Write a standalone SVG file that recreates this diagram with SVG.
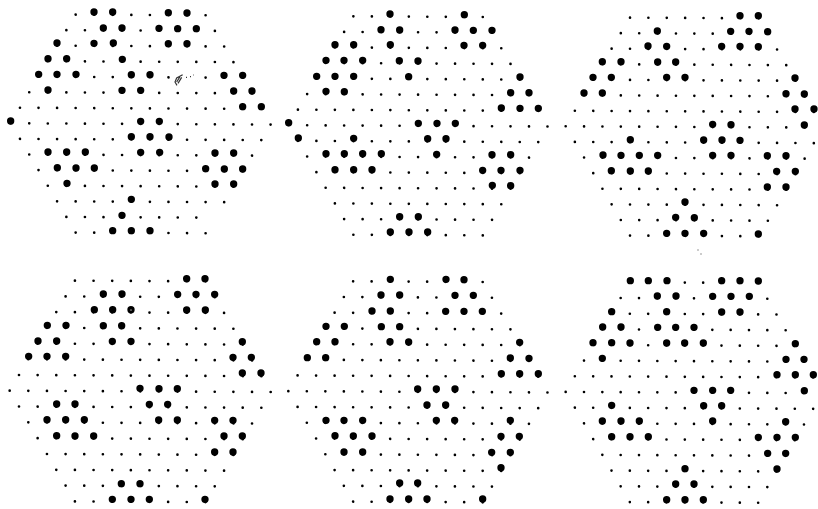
<svg xmlns="http://www.w3.org/2000/svg" width="818" height="509" viewBox="0 0 818 509">
<style>
.grid{fill:none;stroke:#000;stroke-width:8;stroke-linecap:round;stroke-dasharray:0 55.6}
.big{fill:none;stroke:#000;stroke-width:22;stroke-linecap:round}
.patch{fill:none;stroke:#fff;stroke-width:18;stroke-linecap:round}
</style>
<defs>
<path id="lattice" class="grid" d="M194.6 0h390.2M166.8 47h445.8M139 94h501.4M111.2 141h557M83.4 188h612.6M55.6 235h668.2M27.8 282h723.8M0 329h779.4M27.8 376h723.8M55.6 423h668.2M83.4 470h612.6M111.2 517h557M139 564h501.4M166.8 611h445.8M194.6 658h390.2"/>
</defs>
<rect width="818" height="509" fill="#fff"/>
<g id="panel-1">
<use href="#lattice" transform="matrix(.3339 .0017 0 .3312 10.67 14.3)"/>
<g transform="scale(.33333)">
<path class="patch" d="M644.7 653h0M561 231h0"/>
<path class="big" d="M282 36h0M338 36h0M505 38h0M561 39h0M310 84h0M366 84h0M477 85h0M533 86h0M589 86h0M171 129h0M282 130h0M340 129h0M505 131h0M561 131h0M144 176h0M200 176h0M367 178h0M116 223h0M171 223h0M228 223h0M394 224h0M450 224h0M672 226h0M728 226h0M144 270h0M366 271h0M422 271h0M701 273h0M756 273h0M728 320h0M784 320h0M32 363h0M422 364h0M478 364h0M394 410h0M450 410h0M507 411h0M144 456h0M200 456h0M256 456h0M422 457h0M479 457h0M645 459h0M701 459h0M172 503h0M228 504h0M283 504h0M617 506h0M673 507h0M728 507h0M201 550h0M645 552h0M701 552h0M394 598h0M366 646h0M338 692h0M394 692h0M450 692h0"/>
<path d="M548 224L530 234L525 246L531 256M540 230L530 246M545 232L534 250M558 232h3M570 230h3M580 225h2" fill="none" stroke="#333" stroke-width="3.5"/>
</g>
</g>
<g id="panel-2">
<use href="#lattice" transform="matrix(.3325 .0017 0 .3319 288.67 16)"/>
<g transform="translate(275 0) scale(.33333)">
<path class="big" d="M345 42h0M568 44h0M318 89h0M374 90h0M540 90h0M595 91h0M651 91h0M180 134h0M236 134h0M346 134h0M567 136h0M623 136h0M153 181h0M207 181h0M263 181h0M373 182h0M429 183h0M125 229h0M180 229h0M236 229h0M401 230h0M735 231h0M153 274h0M208 275h0M707 278h0M762 278h0M679 324h0M735 325h0M790 325h0M41 368h0M430 370h0M486 370h0M541 370h0M70 414h0M236 415h0M458 416h0M513 416h0M153 461h0M208 461h0M263 461h0M319 461h0M485 463h0M651 464h0M707 464h0M180 509h0M236 509h0M291 509h0M623 511h0M678 511h0M735 511h0M652 556h0M707 557h0M374 650h0M430 650h0M346 696h0M402 696h0M458 696h0"/>
</g>
</g>
<g id="panel-3">
<use href="#lattice" transform="matrix(.3306 .0017 0 .3312 565.67 17.33)"/>
<g transform="translate(550 0) scale(.33333)">
<path class="big" d="M570 47h0M625 47h0M322 93h0M542 94h0M597 94h0M653 95h0M294 138h0M350 139h0M515 139h0M570 139h0M625 140h0M157 185h0M213 185h0M323 186h0M377 186h0M129 232h0M184 232h0M350 232h0M405 232h0M735 234h0M102 279h0M157 279h0M708 281h0M763 282h0M735 327h0M792 327h0M488 373h0M543 374h0M763 375h0M241 419h0M461 420h0M516 420h0M570 421h0M159 465h0M213 466h0M268 466h0M323 466h0M488 466h0M543 466h0M652 467h0M708 467h0M184 512h0M241 513h0M295 513h0M680 514h0M736 514h0M652 561h0M708 561h0M405 606h0M377 652h0M433 653h0M350 700h0M405 700h0M461 700h0M625 702h0"/>
</g>
</g>
<g id="panel-4">
<use href="#lattice" transform="matrix(.3353 .0017 0 .3355 9.67 280.33)"/>
<g transform="translate(0 264) scale(.33333)">
<path class="big" d="M560 44h0M615 44h0M310 90h0M366 90h0M533 91h0M588 91h0M644 91h0M283 137h0M338 137h0M393 137h0M560 138h0M616 138h0M142 184h0M198 184h0M310 185h0M365 185h0M114 231h0M170 231h0M337 232h0M393 232h0M727 233h0M86 277h0M141 277h0M197 277h0M699 280h0M754 280h0M727 327h0M783 327h0M420 373h0M477 374h0M532 374h0M170 420h0M225 420h0M448 421h0M503 421h0M141 467h0M197 467h0M253 467h0M476 468h0M532 468h0M644 469h0M699 469h0M170 515h0M225 516h0M281 516h0M672 516h0M727 516h0M644 564h0M699 564h0M364 659h0M420 659h0M337 706h0M393 706h0M448 706h0M615 706h0"/>
<circle cx="393" cy="138" r="2.5" fill="#999"/>
</g>
</g>
<g id="panel-5">
<use href="#lattice" transform="matrix(.3329 .0017 0 .3348 288.33 281)"/>
<g transform="translate(275 264) scale(.33333)">
<path class="big" d="M346 46h0M513 46h0M567 47h0M318 93h0M374 93h0M540 94h0M595 94h0M291 141h0M346 141h0M512 142h0M567 142h0M622 142h0M153 187h0M208 187h0M319 188h0M374 188h0M125 233h0M180 233h0M345 233h0M401 234h0M734 235h0M97 281h0M152 281h0M706 282h0M762 283h0M679 329h0M734 329h0M790 329h0M428 375h0M484 375h0M540 375h0M456 423h0M512 423h0M153 469h0M207 469h0M263 469h0M484 469h0M539 469h0M706 469h0M180 515h0M235 516h0M291 516h0M678 517h0M733 517h0M207 564h0M263 564h0M650 565h0M706 565h0M678 611h0M374 657h0M428 657h0M345 705h0M401 705h0M456 705h0M623 705h0"/>
</g>
</g>
<g id="panel-6">
<use href="#lattice" transform="matrix(.3297 .0017 0 .334 565.67 282)"/>
<g transform="translate(550 264) scale(.33333)">
<path class="big" d="M241 50h0M295 50h0M351 50h0M515 50h0M570 50h0M625 51h0M322 96h0M378 96h0M488 97h0M543 97h0M598 97h0M185 143h0M350 143h0M515 144h0M570 144h0M158 189h0M213 189h0M323 190h0M377 190h0M432 190h0M129 236h0M185 236h0M240 237h0M350 237h0M404 237h0M460 237h0M736 239h0M157 283h0M708 286h0M762 286h0M681 332h0M736 332h0M790 332h0M432 379h0M488 379h0M542 379h0M763 380h0M185 424h0M461 425h0M515 425h0M157 471h0M213 471h0M268 471h0M488 471h0M707 473h0M185 518h0M240 518h0M295 518h0M625 520h0M681 520h0M736 520h0M653 568h0M707 568h0M405 614h0M681 615h0M377 660h0M432 660h0M350 707h0M405 707h0M460 707h0"/>
</g>
</g>
<path d="M697 250h2M701 253v2" fill="none" stroke="#999" stroke-width="1"/>
</svg>
